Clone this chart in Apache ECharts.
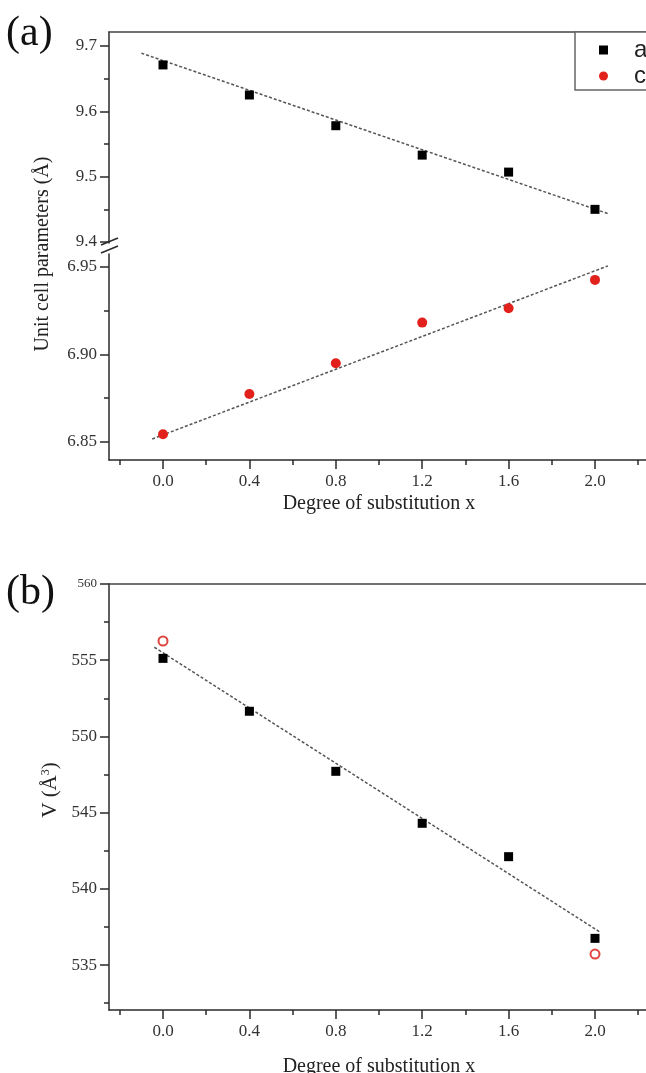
<!DOCTYPE html>
<html>
<head>
<meta charset="utf-8">
<script src="https://cdn.jsdelivr.net/npm/echarts@6/dist/echarts.min.js"></script>
<style>
html, body { margin: 0; padding: 0; background: #fff; overflow: hidden; }
#chart { width: 660px; height: 1073px; }
</style>
</head>
<body>
<div id="chart"></div>
<script>
// degree of substitution x
var xValues = [0, 0.4, 0.8, 1.2, 1.6, 2.0];
// (a) unit cell parameters
var aValues = [9.671, 9.625, 9.578, 9.533, 9.507, 9.450];
var cValues = [6.8544, 6.8774, 6.895, 6.9182, 6.9264, 6.9426];
// dotted fit lines, end points
var aFitX = [-0.1, 2.06];
var aFitY = [9.689, 9.4435];
var cFitX = [-0.05, 2.06];
var cFitY = [6.8517, 6.9506];
// (b) cell volume
var vValues = [555.12, 551.65, 547.71, 544.30, 542.11, 536.75];
var vOpenX = [0, 2.0];
var vOpenY = [556.26, 535.72];
var vFitX = [-0.04, 2.02];
var vFitY = [555.85, 537.19];
// ticks
var xTicks = [0, 0.4, 0.8, 1.2, 1.6, 2.0];
var xMinorTicks = [-0.2, 0.2, 0.6, 1.0, 1.4, 1.8, 2.2];
var aTicks = [9.4, 9.5, 9.6, 9.7];
var aMinorTicks = [9.45, 9.55, 9.65];
var cTicks = [6.85, 6.90, 6.95];
var cMinorTicks = [6.875, 6.925];
var vTicks = [535, 540, 545, 550, 555, 560];
var vMinorTicks = [532.5, 537.5, 542.5, 547.5, 552.5, 557.5];

var serif = 'Liberation Serif';
var axisColor = '#2a2a2a';

function zip(xs, ys) {
  return xs.map(function (x, i) { return [x, ys[i]]; });
}

function majorY(grid, min, max, ticks, fmt) {
  return {
    type: 'value', gridIndex: grid, position: 'left', min: min, max: max,
    splitLine: { show: false },
    axisLine: { show: true, onZero: false, lineStyle: { color: axisColor, width: 1.5 } },
    axisTick: { show: true, inside: false, length: 9, customValues: ticks, lineStyle: { color: axisColor, width: 1.5 } },
    axisLabel: {
      show: true, customValues: ticks, margin: 12, formatter: fmt,
      color: '#333', fontFamily: serif, fontSize: 17,
      rich: { s: { fontSize: 13, fontFamily: serif, color: '#333' } }
    }
  };
}
function minorY(grid, min, max, ticks) {
  return {
    type: 'value', gridIndex: grid, position: 'left', min: min, max: max,
    splitLine: { show: false },
    axisLine: { show: false, onZero: false },
    axisTick: { show: true, length: 5, customValues: ticks, lineStyle: { color: axisColor, width: 1.5 } },
    axisLabel: { show: false }
  };
}
function topX(grid) {
  return {
    type: 'value', gridIndex: grid, position: 'top', min: -0.25, max: 2.25,
    splitLine: { show: false },
    axisLine: { show: true, onZero: false, lineStyle: { color: '#444', width: 1.5 } },
    axisTick: { show: false }, axisLabel: { show: false }
  };
}
function majorX(grid, nameGap) {
  return {
    type: 'value', gridIndex: grid, position: 'bottom', min: -0.25, max: 2.25,
    name: 'Degree of substitution x', nameLocation: 'middle', nameGap: nameGap,
    nameMoveOverlap: false,
    nameTextStyle: { fontFamily: serif, fontSize: 20, color: '#222' },
    splitLine: { show: false },
    axisLine: { show: true, onZero: false, lineStyle: { color: axisColor, width: 1.5 } },
    axisTick: { show: true, length: 9, customValues: xTicks, lineStyle: { color: axisColor, width: 1.5 } },
    axisLabel: {
      show: true, customValues: xTicks, margin: 13,
      formatter: function (v) { return v.toFixed(1); },
      color: '#333', fontFamily: serif, fontSize: 17
    }
  };
}
function minorX(grid) {
  return {
    type: 'value', gridIndex: grid, position: 'bottom', min: -0.25, max: 2.25,
    splitLine: { show: false },
    axisLine: { show: false, onZero: false },
    axisTick: { show: true, length: 5, customValues: xMinorTicks, lineStyle: { color: axisColor, width: 1.5 } },
    axisLabel: { show: false }
  };
}
function fitLine(xi, yi, data) {
  return {
    type: 'line', xAxisIndex: xi, yAxisIndex: yi, data: data,
    symbol: 'none', silent: true, z: 1,
    lineStyle: { type: [3, 2], color: '#555', width: 1.5 }
  };
}

var chart = echarts.init(document.getElementById('chart'));
var option = {
  animation: false,
  backgroundColor: '#fff',
  grid: [
    { left: 109, top: 32, width: 540, height: 211, outerBoundsMode: 'none' },
    { left: 109, top: 254, width: 540, height: 206, outerBoundsMode: 'none' },
    { left: 109, top: 584, width: 540, height: 426, outerBoundsMode: 'none' }
  ],
  xAxis: [topX(0), majorX(1, 34), minorX(1), topX(2), majorX(2, 47), minorX(2)],
  yAxis: [
    majorY(0, 9.3985, 9.7214, aTicks, function (v) { return v.toFixed(1); }),
    minorY(0, 9.3985, 9.7214, aMinorTicks),
    majorY(1, 6.8397, 6.9574, cTicks, function (v) { return v.toFixed(2); }),
    minorY(1, 6.8397, 6.9574, cMinorTicks),
    majorY(2, 532.05, 560, vTicks, function (v) { return v === 560 ? '{s|560}' : String(v); }),
    minorY(2, 532.05, 560, vMinorTicks)
  ],
  legend: {
    data: [{ name: 'a', icon: 'rect' }, { name: 'c', icon: 'circle' }],
    orient: 'vertical', left: 575, top: 32,
    padding: [6, 80, 2, 24],
    itemWidth: 9, itemHeight: 9, itemGap: 2,
    borderColor: '#666', borderWidth: 1.5, backgroundColor: '#fff',
    selectedMode: false,
    textStyle: { fontFamily: 'Liberation Sans', fontSize: 24, color: '#222', lineHeight: 20, padding: [0, 0, 0, 21] }
  },
  series: [
    fitLine(0, 0, zip(aFitX, aFitY)),
    {
      name: 'a', type: 'scatter', xAxisIndex: 0, yAxisIndex: 0, data: zip(xValues, aValues),
      symbol: 'rect', symbolSize: 9, itemStyle: { color: '#000', opacity: 1 }, z: 3
    },
    fitLine(1, 2, zip(cFitX, cFitY)),
    {
      name: 'c', type: 'scatter', xAxisIndex: 1, yAxisIndex: 2, data: zip(xValues, cValues),
      symbol: 'circle', symbolSize: 10, itemStyle: { color: '#e3211c', opacity: 1 }, z: 3
    },
    fitLine(4, 4, zip(vFitX, vFitY)),
    {
      name: 'V', type: 'scatter', xAxisIndex: 4, yAxisIndex: 4, data: zip(xValues, vValues),
      symbol: 'rect', symbolSize: 9, itemStyle: { color: '#000', opacity: 1 }, z: 3
    },
    {
      name: 'V2', type: 'scatter', xAxisIndex: 4, yAxisIndex: 4, data: zip(vOpenX, vOpenY),
      symbol: 'emptyCircle', symbolSize: 9, itemStyle: { color: '#e0453f', borderWidth: 1.2, opacity: 1 }, z: 3
    }
  ],
  graphic: [
    { type: 'text', x: 6, y: 34, style: { text: '(a)', font: '42px Liberation Serif', fill: '#111', textVerticalAlign: 'middle' } },
    { type: 'text', x: 6, y: 593, style: { text: '(b)', font: '42px Liberation Serif', fill: '#111', textVerticalAlign: 'middle' } },
    {
      type: 'text', x: 43, y: 254, rotation: Math.PI / 2,
      style: { text: 'Unit cell parameters (Å)', font: '20px Liberation Serif', fill: '#222', textAlign: 'center', textVerticalAlign: 'middle' }
    },
    {
      type: 'text', x: 50, y: 790, rotation: Math.PI / 2,
      style: {
        text: 'V (Å{sup|3})', font: '21px Liberation Serif', fill: '#222', textAlign: 'center', textVerticalAlign: 'middle',
        rich: { sup: { fontSize: 12, fontFamily: serif, verticalAlign: 'top', fill: '#222' } }
      }
    },
    // axis break marks
    { type: 'line', shape: { x1: 101, y1: 245, x2: 118, y2: 238 }, style: { stroke: axisColor, lineWidth: 1.5 } },
    { type: 'line', shape: { x1: 101, y1: 253, x2: 118, y2: 246 }, style: { stroke: axisColor, lineWidth: 1.5 } }
  ]
};
chart.setOption(option);
</script>
</body>
</html>
